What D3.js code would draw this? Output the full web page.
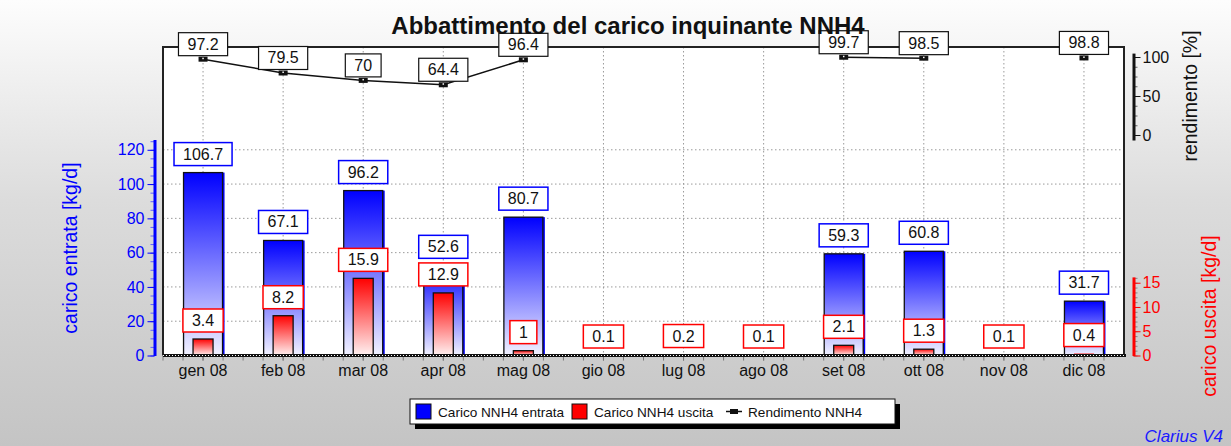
<!DOCTYPE html>
<html>
<head>
<meta charset="utf-8">
<title>Abbattimento del carico inquinante NNH4</title>
<script src="https://d3js.org/d3.v7.min.js"></script>
<style>
  body { margin: 0; }
  svg { display: block; font-family: "Liberation Sans", Arial, sans-serif; }
  .grid line { stroke: #9a9a9a; stroke-dasharray: 1.5,2.5; }
  .tick text { font-size: 16px; }
</style>
</head>
<body>
<svg id="chart" width="1231" height="446"></svg>
<script>
// data
var months = ["gen 08", "feb 08", "mar 08", "apr 08", "mag 08", "gio 08",
              "lug 08", "ago 08", "set 08", "ott 08", "nov 08", "dic 08"];
var entrata = [106.7, 67.1, 96.2, 52.6, 80.7, null, null, null, 59.3, 60.8, null, 31.7];
var uscita = [3.4, 8.2, 15.9, 12.9, 1, 0.1, 0.2, 0.1, 2.1, 1.3, 0.1, 0.4];
var rendimento = [97.2, 79.5, 70, 64.4, 96.4, null, null, null, 99.7, 98.5, null, 98.8];

var inTicks = [0, 20, 40, 60, 80, 100, 120];
var outTicks = [0, 5, 10, 15];
var rendTicks = [0, 50, 100];

var svg = d3.select("#chart");
var plot = { left: 163, right: 1124, top: 47, bottom: 355.5 };

var defs = svg.append("defs");
function vgrad(id, stops) {
  var g = defs.append("linearGradient").attr("id", id)
    .attr("x1", 0).attr("y1", 0).attr("x2", 0).attr("y2", 1);
  stops.forEach(function(s) {
    g.append("stop").attr("offset", s[0]).attr("stop-color", s[1]);
  });
}
vgrad("bg", [[0, "#fdfdfd"], [0.45, "#dcdcdc"], [1, "#c4c4c4"]]);
vgrad("blueGrad", [[0, "#0000ff"], [1, "#f2f2ff"]]);
vgrad("redGrad", [[0, "#ff0000"], [1, "#fff2f2"]]);

svg.append("rect").attr("width", 1231).attr("height", 446).attr("fill", "url(#bg)");
svg.append("rect")
  .attr("x", plot.left).attr("y", plot.top)
  .attr("width", plot.right - plot.left).attr("height", plot.bottom - plot.top)
  .attr("fill", "#fff");

// scales
var x = d3.scaleBand().domain(months).range([plot.left, plot.right]).padding(0);
var cx = function(m) { return x(m) + x.bandwidth() / 2; };
var yIn = d3.scaleLinear().domain([0, 126]).range([plot.bottom, 139.5]);
var yOut = d3.scaleLinear().domain([0, 16.2]).range([plot.bottom, 276.9]);
var yRend = d3.scaleLinear().domain([-6.4, 105]).range([140, 53.1]);

// grid
svg.append("g").attr("class", "grid")
  .selectAll("line").data(inTicks.slice(1)).enter().append("line")
  .attr("x1", plot.left).attr("x2", plot.right)
  .attr("y1", function(d) { return yIn(d); }).attr("y2", function(d) { return yIn(d); });
svg.append("g").attr("class", "grid")
  .selectAll("line").data(months).enter().append("line")
  .attr("x1", cx).attr("x2", cx)
  .attr("y1", plot.top).attr("y2", plot.bottom);

// frame
svg.append("path")
  .attr("d", "M" + plot.left + "," + plot.bottom + "V" + plot.top + "H" + plot.right + "V" + plot.bottom)
  .attr("fill", "none").attr("stroke", "#222").attr("stroke-width", 2);

// bars
var inData = months.map(function(m, i) { return { m: m, v: entrata[i] }; })
  .filter(function(d) { return d.v != null; });
var outData = months.map(function(m, i) { return { m: m, v: uscita[i] }; });
var bw = 39, rw = 20;

svg.append("g").selectAll("rect").data(inData).enter().append("rect")
  .attr("x", function(d) { return cx(d.m) - bw / 2 + 2; })
  .attr("y", function(d) { return yIn(d.v); })
  .attr("width", bw).attr("height", function(d) { return plot.bottom - yIn(d.v); })
  .attr("fill", "#0000ff");
svg.append("g").selectAll("rect").data(inData).enter().append("rect")
  .attr("x", function(d) { return cx(d.m) - bw / 2; })
  .attr("y", function(d) { return yIn(d.v); })
  .attr("width", bw).attr("height", function(d) { return plot.bottom - yIn(d.v); })
  .attr("fill", "url(#blueGrad)").attr("stroke", "#111").attr("stroke-width", 1.3);

svg.append("g").selectAll("rect").data(outData).enter().append("rect")
  .attr("x", function(d) { return cx(d.m) - rw / 2; })
  .attr("y", function(d) { return yOut(d.v); })
  .attr("width", rw).attr("height", function(d) { return plot.bottom - yOut(d.v); })
  .attr("fill", "url(#redGrad)").attr("stroke", "#111")
  .attr("stroke-width", function(d) { return d.v < 0.5 ? 0 : 1.3; });

// x axis
var minor = [];
months.forEach(function(m) { for (var k = 0; k < 4; k++) minor.push(x(m) + k * x.bandwidth() / 4); });
svg.append("g").selectAll("line").data(minor).enter().append("line")
  .attr("x1", function(d) { return d; }).attr("x2", function(d) { return d; })
  .attr("y1", plot.bottom).attr("y2", plot.bottom + 5)
  .attr("stroke", "#777");
var xAxis = svg.append("g").attr("transform", "translate(0," + plot.bottom + ")")
  .call(d3.axisBottom(x).tickSize(5).tickPadding(4).tickSizeOuter(0));
xAxis.select(".domain").remove();
xAxis.selectAll(".tick line").attr("stroke", "#777");
xAxis.selectAll(".tick text").attr("fill", "#111");
svg.append("line").attr("x1", plot.left).attr("x2", plot.right + 2)
  .attr("y1", plot.bottom).attr("y2", plot.bottom)
  .attr("stroke", "#111").attr("stroke-width", 3);
svg.append("line").attr("x1", plot.left).attr("x2", plot.right + 2)
  .attr("y1", plot.bottom).attr("y2", plot.bottom)
  .attr("stroke", "#fff").attr("stroke-width", 1).attr("stroke-dasharray", "1,2");

// left axis (entrata)
function styledAxis(g, color) {
  g.select(".domain").attr("stroke", color).attr("stroke-width", 3);
  g.selectAll(".tick line").attr("stroke", color);
  g.selectAll(".tick text").attr("fill", color);
}
var minIn = d3.range(0, 126, 5);
svg.append("g").attr("transform", "translate(154.5,0)")
  .call(d3.axisLeft(yIn).tickValues(minIn).tickSize(4).tickFormat("").tickSizeOuter(0))
  .call(function(g) { g.select(".domain").remove(); g.selectAll("line").attr("stroke", "#6060ff"); });
svg.append("g").attr("transform", "translate(154.5,0)")
  .call(d3.axisLeft(yIn).tickValues(inTicks).tickSize(7).tickPadding(3).tickSizeOuter(0))
  .call(styledAxis, "#0000ff");

// right axis (uscita)
svg.append("g").attr("transform", "translate(1133.5,0)")
  .call(d3.axisRight(yOut).tickValues(d3.range(0, 16.2, 1)).tickSize(4).tickFormat("").tickSizeOuter(0))
  .call(function(g) { g.select(".domain").remove(); g.selectAll("line").attr("stroke", "#888"); });
svg.append("g").attr("transform", "translate(1133.5,0)")
  .call(d3.axisRight(yOut).tickValues(outTicks).tickSize(7).tickPadding(2).tickSizeOuter(0))
  .call(styledAxis, "#ff0000");

// right axis (rendimento)
svg.append("g").attr("transform", "translate(1133.5,0)")
  .call(d3.axisRight(yRend).tickValues(d3.range(0, 101, 12.5)).tickSize(4).tickFormat("").tickSizeOuter(0))
  .call(function(g) { g.select(".domain").remove(); g.selectAll("line").attr("stroke", "#666"); });
svg.append("g").attr("transform", "translate(1133.5,0)")
  .call(d3.axisRight(yRend).tickValues(rendTicks).tickSize(7).tickPadding(2).tickSizeOuter(0))
  .call(styledAxis, "#111");

// rendimento line
var rendData = months.map(function(m, i) { return { m: m, v: rendimento[i] }; });
var line = d3.line()
  .defined(function(d) { return d.v != null; })
  .x(function(d) { return cx(d.m); })
  .y(function(d) { return yRend(d.v); });
svg.append("path").datum(rendData).attr("d", line)
  .attr("fill", "none").attr("stroke", "#111").attr("stroke-width", 1.5);
var pts = rendData.filter(function(d) { return d.v != null; });
svg.append("g").selectAll("rect").data(pts).enter().append("rect")
  .attr("x", function(d) { return cx(d.m) - 4.5; })
  .attr("y", function(d) { return yRend(d.v) - 2.5; })
  .attr("width", 9).attr("height", 5).attr("fill", "#111");
svg.append("g").selectAll("rect").data(pts).enter().append("rect")
  .attr("x", function(d) { return cx(d.m) - 0.75; })
  .attr("y", function(d) { return yRend(d.v) - 1.5; })
  .attr("width", 1.5).attr("height", 1.5).attr("fill", "#fff");

// value labels
function labels(data, yOf, gap, stroke, sw) {
  var g = svg.append("g").selectAll("g").data(data).enter().append("g")
    .attr("transform", function(d) { return "translate(" + cx(d.m) + "," + (yOf(d.v) - gap) + ")"; });
  g.append("text").attr("text-anchor", "middle").attr("y", -6)
    .attr("font-size", "16px").attr("fill", "#111")
    .text(function(d) { return d.v; });
  g.each(function() {
    var gg = d3.select(this);
    var w = gg.select("text").node().getComputedTextLength() + 18;
    gg.insert("rect", "text").attr("x", -w / 2).attr("y", -23).attr("width", w).attr("height", 23)
      .attr("fill", "#fff").attr("stroke", stroke).attr("stroke-width", sw);
  });
}
labels(pts, yRend, 3.5, "#111", 1.2);
labels(inData, yIn, 7, "#0000ff", 1.5);
labels(outData, yOut, 7, "#ff0000", 1.5);

// titles
svg.append("text").attr("x", 628).attr("y", 34).attr("text-anchor", "middle")
  .attr("font-size", "24px").attr("font-weight", "bold").attr("fill", "#111")
  .text("Abbattimento del carico inquinante NNH4");
svg.append("text").attr("transform", "translate(77,248) rotate(-90)")
  .attr("text-anchor", "middle").attr("font-size", "19.5px").attr("fill", "#0000ff")
  .text("carico entrata [kg/d]");
svg.append("text").attr("transform", "translate(1216,316) rotate(-90)")
  .attr("text-anchor", "middle").attr("font-size", "19.5px").attr("fill", "#ff0000")
  .text("carico uscita [kg/d]");
svg.append("text").attr("transform", "translate(1197,96) rotate(-90)")
  .attr("text-anchor", "middle").attr("font-size", "19.5px").attr("fill", "#111")
  .text("rendimento [%]");

// legend
var lg = svg.append("g").attr("transform", "translate(410,399)");
lg.append("rect").attr("x", 5).attr("y", 5).attr("width", 485).attr("height", 25).attr("fill", "#000");
lg.append("rect").attr("width", 485).attr("height", 25).attr("fill", "#fff").attr("stroke", "#111");
var legItems = [
  { label: "Carico NNH4 entrata", color: "#0000ff", x: 6 },
  { label: "Carico NNH4 uscita", color: "#ff0000", x: 162 },
  { label: "Rendimento NNH4", color: null, x: 316 }
];
legItems.forEach(function(d) {
  if (d.color) {
    lg.append("rect").attr("x", d.x).attr("y", 5).attr("width", 15).attr("height", 15)
      .attr("fill", d.color).attr("stroke", "#111");
  } else {
    lg.append("line").attr("x1", d.x).attr("x2", d.x + 16).attr("y1", 12.5).attr("y2", 12.5)
      .attr("stroke", "#111").attr("stroke-width", 1.5);
    lg.append("rect").attr("x", d.x + 4).attr("y", 10).attr("width", 8).attr("height", 5).attr("fill", "#111");
  }
  lg.append("text").attr("x", d.x + 22).attr("y", 18).attr("font-size", "13.6px").attr("fill", "#111")
    .text(d.label);
});

svg.append("text").attr("x", 1223).attr("y", 442).attr("text-anchor", "end")
  .attr("font-size", "17px").attr("font-style", "italic").attr("fill", "#1a1aff")
  .text("Clarius V4");
</script>
</body>
</html>
